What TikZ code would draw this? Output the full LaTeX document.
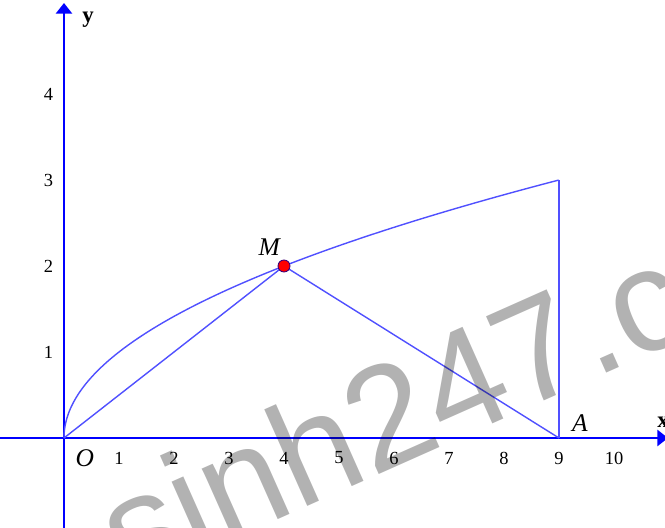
\documentclass[tikz,border=0pt]{standalone}
\usepackage{fontspec}
\setmainfont{Liberation Serif}
\newfontfamily\wmfont{Liberation Sans}
\usetikzlibrary{arrows.meta}
\begin{document}
\begin{tikzpicture}[
  axisline/.style={draw={rgb,255:red,0;green,0;blue,255}, line width=1.6pt},
  graphline/.style={draw={rgb,255:red,80;green,80;blue,255}, line width=0.8pt},
  ticklab/.style={inner sep=0pt, font=\fontsize{10.5}{12}\selectfont},
  ptlab/.style={inner sep=0pt, font=\fontsize{14.5}{16}\selectfont\itshape},
  axlab/.style={inner sep=0pt, font=\fontsize{13}{15}\selectfont\bfseries},
  wmark/.style={anchor=base west, rotate=24, inner sep=0pt, outer sep=0pt, text=black, text opacity=0.3, font=\fontsize{83}{90}\selectfont\wmfont}
]
\useasboundingbox (-1.28cm,-1.8cm) rectangle (12.02cm,8.76cm);
% axes
\coordinate (xs) at (-1.28cm,0);
\coordinate (xe) at (12.08cm,0);
\coordinate (ys) at (0,-1.8cm);
\coordinate (ye) at (0,8.7cm);
\draw[axisline, -{Triangle[width=9pt,length=6pt]}] (xs) -- (xe);
\draw[axisline, -{Triangle[width=9pt,length=6pt]}] (ys) -- (ye);
\node[axlab] (ylab) at (0.48cm,8.36cm) {y};
\node[axlab] (xlab) at (11.98cm,0.32cm) {x};
\begin{scope}[x=1.1cm, y=1.72cm]
  \coordinate (O) at (0,0);
  \coordinate (M) at (4,2);
  \coordinate (A) at (9,0);
  \coordinate (B) at (9,3);
  \foreach \k in {1,...,10} {\node[ticklab] (tx\k) at (\k,-0.233) {\k};}
  \foreach \k in {1,...,4} {\node[ticklab] (ty\k) at (-0.28,\k) {\k};}
  \draw[graphline] plot[domain=0:3, samples=150, smooth] ({\x*\x},{\x});
  \draw[graphline] (A) -- (B);
  \draw[graphline] (O) -- (M) -- (A);
  \filldraw[fill=red, draw={rgb,255:red,60;green,0;blue,120}, line width=0.5pt] (M) circle (0.12cm);
  \node[ptlab] (Olab) at (0.38,-0.233) {O};
  \node[ptlab] (Mlab) at (3.73,2.22) {M};
  \node[ptlab] (Alab) at (9.38,0.174) {A};
\end{scope}
\node[wmark] (wm) at (1.28cm,-2.97cm) {sinh247.com};
\end{tikzpicture}
\end{document}
